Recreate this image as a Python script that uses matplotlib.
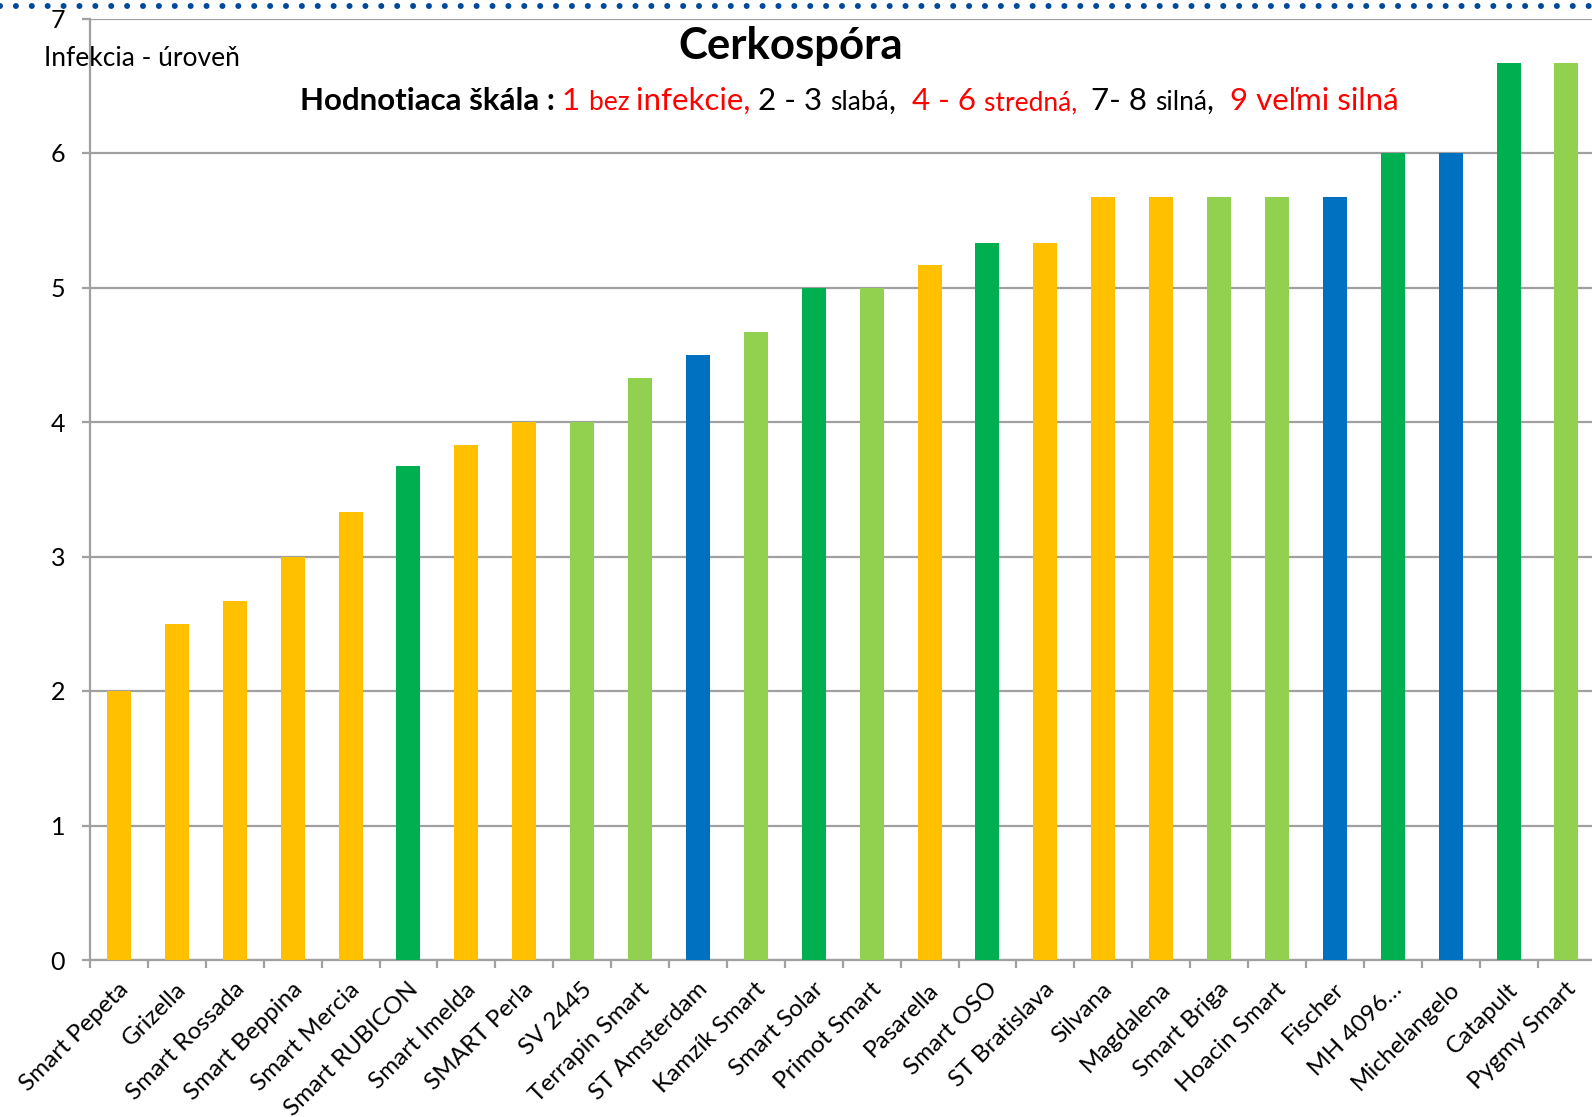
import matplotlib
matplotlib.use("Agg")
import matplotlib.pyplot as plt
from matplotlib.lines import Line2D

plt.rcParams['font.family'] = ['Lato', 'DejaVu Sans']

categories = ["Smart Pepeta", "Grizella", "Smart Rossada", "Smart Beppina", "Smart Mercia",
              "Smart RUBICON", "Smart Imelda", "SMART Perla", "SV 2445", "Terrapin Smart",
              "ST Amsterdam", "Kamzík Smart", "Smart Solar", "Primot Smart", "Pasarella",
              "Smart OSO", "ST Bratislava", "Silvana", "Magdalena", "Smart Briga",
              "Hoacin Smart", "Fischer", "MH 4096…", "Michelangelo", "Catapult", "Pygmy Smart"]
values = [2.0, 2.5, 2.67, 3.0, 3.33, 3.67, 3.83, 4.0, 4.0, 4.33,
          4.5, 4.67, 5.0, 5.0, 5.17, 5.33, 5.33, 5.67, 5.67, 5.67,
          5.67, 5.67, 6.0, 6.0, 6.67, 6.67]
groups = ["Y", "Y", "Y", "Y", "Y", "DG", "Y", "Y", "LG", "LG",
          "B", "LG", "DG", "LG", "Y", "DG", "Y", "Y", "Y", "LG",
          "LG", "B", "DG", "B", "DG", "LG"]
palette = {"Y": "#FFC000", "DG": "#00B050", "LG": "#92D050", "B": "#0070C0"}
yticks = [0, 1, 2, 3, 4, 5, 6, 7]

W, H = 1592, 1117
fig = plt.figure(figsize=(W / 100, H / 100), dpi=100)
x0, x1 = 90, 90 + 26 * 57.9
y0, y1 = 960, 18.5
ax = fig.add_axes([x0 / W, 1 - y0 / H, (x1 - x0) / W, (y0 - y1) / H])

xs = list(range(len(categories)))
ax.bar(xs, values, width=0.415, color=[palette[g] for g in groups], zorder=3)
ax.set_xlim(-0.5, len(categories) - 0.5)
ax.set_ylim(0, 7)
ax.set_yticks(yticks)
ax.set_yticklabels([str(t) for t in yticks], fontsize=18)
ax.grid(axis='y', color='#A0A0A0', linewidth=1.6, zorder=1)
ax.set_axisbelow(True)
for s in ['top', 'right']:
    ax.spines[s].set_visible(False)
for s in ['left', 'bottom']:
    ax.spines[s].set_color('#A0A0A0')
    ax.spines[s].set_linewidth(1.6)
ax.tick_params(axis='y', length=6, width=1.6, color='#A0A0A0', pad=12)
ax.set_xticks([i - 0.5 for i in range(len(categories) + 1)])
ax.set_xticklabels([])
ax.tick_params(axis='x', length=6, width=1.6, color='#A0A0A0')
for i, c in enumerate(categories):
    ax.annotate(c, xy=(i, 0), xycoords=('data', 'axes fraction'), xytext=(6, -26),
                textcoords='offset pixels', rotation=45, rotation_mode='anchor',
                ha='right', va='center', fontsize=17.5)

# top dotted border
fig.add_artist(Line2D([0, 1], [1 - 6 / H, 1 - 6 / H], transform=fig.transFigure,
                      color='#00489A', linewidth=4.3, linestyle=(0, (0.01, 2.65)),
                      dash_capstyle='round'))

fig.text(44 / W, 1 - 58 / H, "Infekcia - úroveň", fontsize=19, ha='left', va='center')
fig.text(791 / W, 1 - 46 / H, "Cerkospóra", fontsize=31.5, fontweight='bold', ha='center', va='center')

# subtitle composed of pieces
pieces = [("Hodnotiaca škála : ", 'black', 22.5, 'bold'),
          ("1 ", 'red', 22.5, 'normal'), ("bez ", 'red', 19, 'normal'), ("infekcie, ", 'red', 22.5, 'normal'),
          ("2 - 3 ", 'black', 22.5, 'normal'), ("slabá", 'black', 19, 'normal'), (",  ", 'black', 22.5, 'normal'),
          ("4 - 6 ", 'red', 22.5, 'normal'), ("stredná,  ", 'red', 19, 'normal'),
          ("7- 8 ", 'black', 22.5, 'normal'), ("silná", 'black', 19, 'normal'), (",  ", 'black', 22.5, 'normal'),
          ("9 veľmi silná", 'red', 22.5, 'normal')]
renderer = fig.canvas.get_renderer()
texts = []
for s, col, fs, fw in pieces:
    t = fig.text(0, 0.9, s, color=col, fontsize=fs, fontweight=fw, ha='left', va='baseline')
    texts.append(t)
widths = [t.get_window_extent(renderer).width for t in texts]
cur = 300
base = 1 - 110 / H
for t, w in zip(texts, widths):
    t.set_position((cur / W, base))
    cur += w

fig.savefig("out.png", dpi=100)
